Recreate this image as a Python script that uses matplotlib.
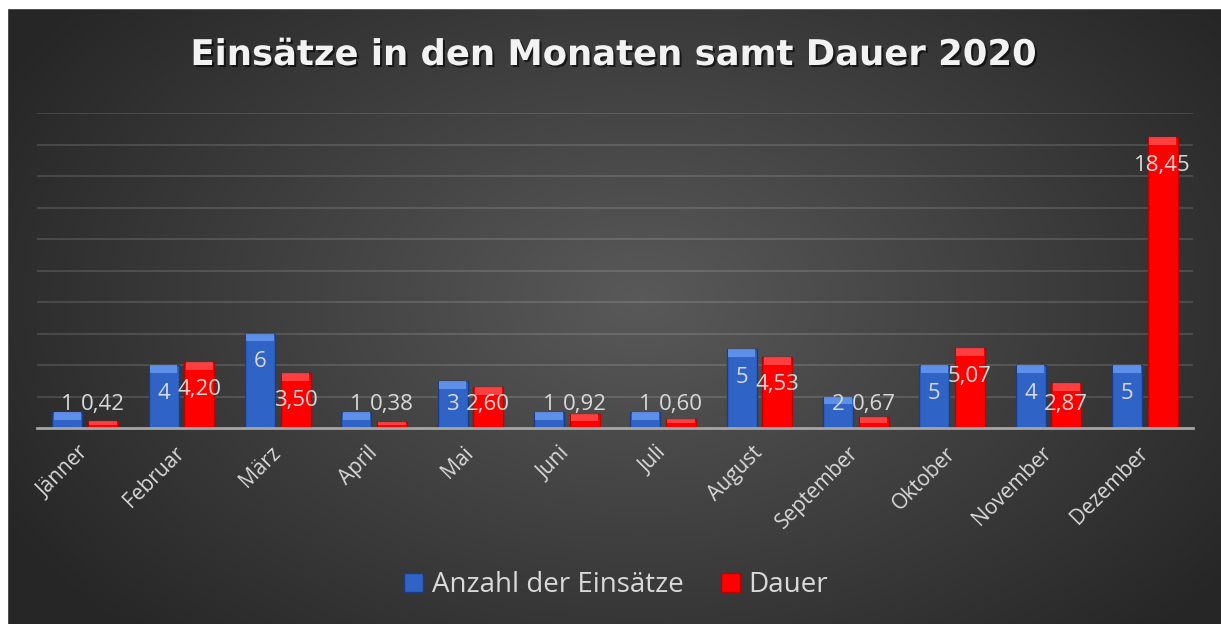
import numpy as np
import matplotlib
matplotlib.use('Agg')
import matplotlib.pyplot as plt
import matplotlib.patheffects as pe
from matplotlib.patches import Rectangle, Patch

plt.rcParams['font.family'] = ['Open Sans', 'DejaVu Sans']

# data
months = ['Jänner', 'Februar', 'März', 'April', 'Mai', 'Juni', 'Juli',
          'August', 'September', 'Oktober', 'November', 'Dezember']
einsaetze = [1, 4, 6, 1, 3, 1, 1, 5, 2, 4, 4, 4]
einsaetze_labels = ['1', '4', '6', '1', '3', '1', '1', '5', '2', '5', '4', '5']
dauer = [0.42, 4.20, 3.50, 0.38, 2.60, 0.92, 0.60, 4.53, 0.67, 5.07, 2.87, 18.45]

W, H = 1221, 624
fig = plt.figure(figsize=(W / 100, H / 100), dpi=100)

# radial background
bg = fig.add_axes([0, 0, 1, 1], zorder=-5)
yy, xx = np.mgrid[0:H, 0:W]
r = np.sqrt(((xx - 640) / 800.0) ** 2 + ((yy - 300) / 520.0) ** 2)
val = np.clip(0.35 - 0.22 * r, 0.15, 0.4)
bg.imshow(np.dstack([val, val, val]), extent=[0, 1, 0, 1], aspect='auto')
bg.axis('off')

ax = fig.add_axes([37 / W, 196 / H, (1193 - 37) / W, 315 / H])
ax.set_facecolor('none')
x = np.arange(len(months))
bw = 0.31
off = 0.185

blue, blue_dark, blue_light = '#2f63c6', '#1b3c84', '#6a9cf2'
red, red_dark, red_light = '#ff0000', '#b80000', '#ff6a6a'

ax.bar(x - off, einsaetze, bw, color=blue, edgecolor=blue_dark, lw=1, zorder=3)
ax.bar(x + off, dauer, bw, color=red, edgecolor=red_dark, lw=1, zorder=3)

# lighter top band (bevel look)
bev_b = [min(0.5, v * 0.5) for v in einsaetze]
bev_r = [min(0.5, v * 0.5) for v in dauer]
ax.bar(x - off, bev_b, bw * 0.92, bottom=np.array(einsaetze) - np.array(bev_b),
       color=blue_light, lw=0, zorder=4, alpha=0.8)
ax.bar(x + off, bev_r, bw * 0.92, bottom=np.array(dauer) - np.array(bev_r),
       color=red_light, lw=0, zorder=4, alpha=0.6)

# data labels
lbl_kw = dict(ha='center', va='center', color='#d9d9d9', fontsize=16, zorder=6)
for i in range(len(months)):
    ax.text(x[i] - off, max(einsaetze[i] - 1.78, 1.52), einsaetze_labels[i], **lbl_kw)
    ax.text(x[i] + off, max(dauer[i] - 1.78, 1.52),
            f'{dauer[i]:.2f}'.replace('.', ','), **lbl_kw)

ax.set_xlim(-0.5, len(months) - 0.5)
ax.set_ylim(0, 20)
ax.set_yticks(np.arange(2, 21, 2))
ax.yaxis.grid(True, color='white', alpha=0.13, lw=1.5)
ax.set_axisbelow(True)
ax.tick_params(axis='y', length=0, labelleft=False)
ax.tick_params(axis='x', length=0, pad=16)
ax.set_xticks(x)
ax.set_xticklabels(months, rotation=45, ha='right', va='center',
                   rotation_mode='anchor', color='#d9d9d9', fontsize=15)
for s in ['top', 'right', 'left']:
    ax.spines[s].set_visible(False)
ax.spines['bottom'].set_color('#a6a6a6')
ax.spines['bottom'].set_linewidth(2)
ax.spines['bottom'].set_zorder(5)

fig.text(0.5025, 1 - 55 / H, 'Einsätze in den Monaten samt Dauer 2020',
         ha='center', va='center', fontsize=25.5, fontweight='bold',
         family='DejaVu Sans', color='#f2f2f2',
         path_effects=[pe.SimplePatchShadow(offset=(1.5, -1.5), shadow_rgbFace='black', alpha=0.6),
                       pe.Normal()])

handles = [Patch(facecolor=blue, edgecolor=blue_dark, label='Anzahl der Einsätze'),
           Patch(facecolor=red, edgecolor=red_dark, label='Dauer')]
fig.legend(handles=handles, loc='center', bbox_to_anchor=(0.5045, (H - 585) / H),
           ncol=2, frameon=False, fontsize=20, labelcolor='#d9d9d9',
           handlelength=0.7, handleheight=0.7, handletextpad=0.3, columnspacing=1.35)

# white margin at top and left like the screenshot
fig.patches.append(Rectangle((0, 1 - 8 / H), 1, 8 / H, transform=fig.transFigure,
                             color='white', zorder=10))
fig.patches.append(Rectangle((0, 0), 7 / W, 1, transform=fig.transFigure,
                             color='white', zorder=10))

fig.savefig('out.png', dpi=100)
